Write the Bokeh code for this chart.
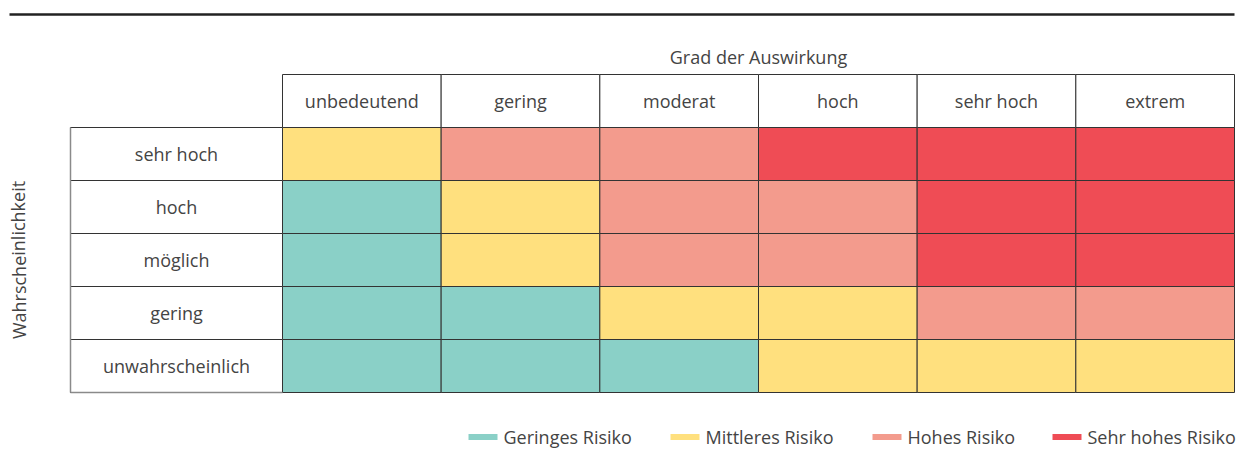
from bokeh.plotting import figure
from bokeh.models import Range1d
from bokeh.core.properties import value
from bokeh.embed import file_html
from bokeh.resources import INLINE

# ---- data ----
impact = ["unbedeutend", "gering", "moderat", "hoch", "sehr hoch", "extrem"]
likelihood = ["sehr hoch", "hoch", "möglich", "gering", "unwahrscheinlich"]
risk = [
    [2, 3, 3, 4, 4, 4],
    [1, 2, 3, 3, 4, 4],
    [1, 2, 3, 3, 4, 4],
    [1, 1, 2, 2, 3, 3],
    [1, 1, 1, 2, 2, 2],
]
levels = ["Geringes Risiko", "Mittleres Risiko", "Hohes Risiko", "Sehr hohes Risiko"]
level_colors = ["#8ad0c7", "#ffe07e", "#f39b8d", "#ef4c55"]
x_title = "Grad der Auswirkung"
y_title = "Wahrscheinlichkeit"

# ---- layout (pixel space) ----
FONT = "Open Sans"
FS = "18px"
TXT = "#444444"
GRID = "#333333"
LBL_L = 70.0
GX0 = 282.0
GX1 = 1234.0
CW = (GX1 - GX0) / len(impact)
HT = 74.0
RT = 127.0
RH = 53.0
legend_x = [468, 670, 872, 1052]
LEG_Y = 436.5
W, H = 1236, 449

p = figure(width=W, height=H, output_backend="svg", toolbar_location=None,
           x_range=Range1d(0, W), y_range=Range1d(H, 0),
           min_border=0, min_border_left=0, min_border_right=0,
           min_border_top=0, min_border_bottom=0)
p.axis.visible = False
p.grid.visible = False
p.outline_line_color = None
p.background_fill_color = "white"
p.border_fill_color = "white"

# top rule
p.segment(x0=[9], y0=[14], x1=[GX1], y1=[14], line_color="#222222", line_width=2.5)

# cells
l, r, t, b, c = [], [], [], [], []
for i, row in enumerate(risk):
    for j, v in enumerate(row):
        l.append(GX0 + j * CW)
        r.append(GX0 + (j + 1) * CW)
        t.append(RT + i * RH)
        b.append(RT + (i + 1) * RH)
        c.append(level_colors[v - 1])
p.quad(left=l, right=r, top=t, bottom=b, fill_color=c, line_color=GRID, line_width=1)

# header cells
hl = [GX0 + j * CW for j in range(len(impact))]
hr = [GX0 + (j + 1) * CW for j in range(len(impact))]
p.quad(left=hl, right=hr, top=[HT] * len(impact), bottom=[RT] * len(impact),
       fill_color="white", line_color=GRID, line_width=1)
p.text(x=[(a + bb) / 2 for a, bb in zip(hl, hr)], y=[(HT + RT) / 2] * len(impact), text=impact,
       text_font=value(FONT), text_font_size=FS, text_color=TXT,
       text_align="center", text_baseline="middle")

# row label cells
rt_ = [RT + i * RH for i in range(len(likelihood))]
rb_ = [RT + (i + 1) * RH for i in range(len(likelihood))]
p.quad(left=[LBL_L] * len(likelihood), right=[GX0] * len(likelihood), top=rt_, bottom=rb_,
       fill_color="white", line_color=GRID, line_width=1)
# softer outer edge of the label column
p.segment(x0=[LBL_L, LBL_L], y0=[RT, rb_[-1]], x1=[LBL_L, GX0], y1=[rb_[-1], rb_[-1]],
          line_color="#8a8a8a", line_width=1.5)
p.text(x=[(LBL_L + GX0) / 2] * len(likelihood), y=[(a + bb) / 2 for a, bb in zip(rt_, rb_)],
       text=likelihood, text_font=value(FONT), text_font_size=FS, text_color=TXT,
       text_align="center", text_baseline="middle")

# titles
p.text(x=[(GX0 + GX1) / 2], y=[56], text=[x_title], text_font=value(FONT), text_font_size=FS,
       text_color=TXT, text_align="center", text_baseline="middle")
p.text(x=[18], y=[(RT + rb_[-1]) / 2], text=[y_title], angle=1.5708,
       text_font=value(FONT), text_font_size=FS, text_color=TXT,
       text_align="center", text_baseline="middle")

# legend
p.rect(x=[x + 14.5 for x in legend_x], y=[LEG_Y] * len(levels), width=29, height=6,
       fill_color=level_colors, line_color=None)
p.text(x=[x + 35 for x in legend_x], y=[LEG_Y] * len(levels), text=levels,
       text_font=value(FONT), text_font_size=FS, text_color=TXT,
       text_align="left", text_baseline="middle")

open("out.html", "w").write(file_html(p, INLINE))
